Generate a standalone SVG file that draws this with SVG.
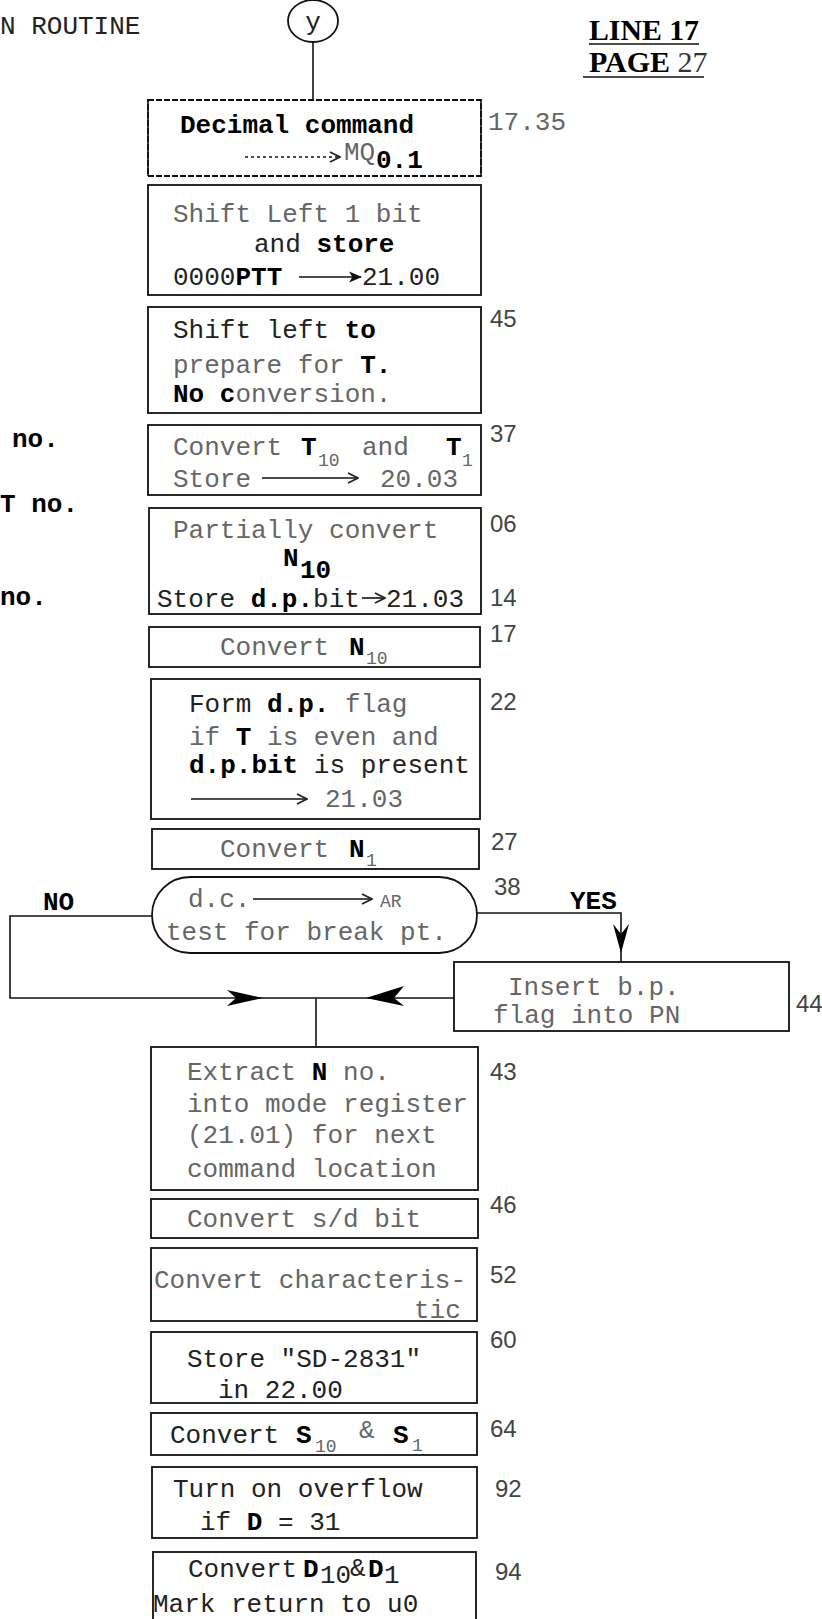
<svg xmlns="http://www.w3.org/2000/svg" width="822" height="1619" viewBox="0 0 822 1619">
<style>
.bx{fill:none;stroke:#111;stroke-width:1.8}
.ln{fill:none;stroke:#111;stroke-width:1.6}
.t{font-family:"Liberation Mono","Courier New",monospace;font-size:26px;fill:#222}
.b{font-weight:bold;fill:#000}
.g{fill:#666}
.s{font-size:18px}
.lb{font-family:"Liberation Sans",Arial,sans-serif;font-size:24px;fill:#444}
.hd{font-family:"Liberation Serif","Times New Roman",serif;font-size:30px;font-weight:bold;fill:#000}
</style>
<defs>
<marker id="chev" viewBox="0 0 12 12" refX="11" refY="6" markerWidth="12" markerHeight="12" markerUnits="userSpaceOnUse" orient="auto"><path d="M1,1 L11,6 L1,11" fill="none" stroke="#222" stroke-width="1.8"/></marker>
<marker id="tri" viewBox="0 0 12 12" refX="11" refY="6" markerWidth="13" markerHeight="13" markerUnits="userSpaceOnUse" orient="auto"><path d="M0,1 L12,6 L0,11 L3,6 Z" fill="#111"/></marker>
</defs>

<g id="header">
<text class="t" x="0" y="34">N ROUTINE</text>
<text class="hd" x="589" y="40" textLength="110" lengthAdjust="spacingAndGlyphs">LINE 17</text>
<line class="ln" x1="589" y1="44" x2="699" y2="44" stroke-width="2.5"/>
<text class="hd" x="589" y="72">PAGE <tspan font-weight="normal" fill="#333">27</tspan></text>
<line class="ln" x1="583" y1="77" x2="704" y2="77" stroke-width="2.5"/>
</g>

<g id="start">
<ellipse class="bx" cx="313" cy="21" rx="25" ry="21"/>
<text class="t" x="313" y="30" text-anchor="middle">y</text>
</g>

<g id="connectors">
<line class="ln" x1="313" y1="42" x2="313" y2="100"/>
<polyline class="ln" points="152,916 10,916 10,998 454,998"/>
<polyline class="ln" points="477,913 621,913 621,962"/>
<line class="ln" x1="316" y1="998" x2="316" y2="1047"/>
<path d="M227,990 L263,998 L227,1006 L236,998 Z" fill="#000"/>
<path d="M366,998 L404,986 L394,998 L404,1006 Z" fill="#000"/>
<path d="M613,924 L621,953 L629,924 L621,934 Z" fill="#000"/>
<text class="t b" x="43" y="910">NO</text>
<text class="t b" x="570" y="909">YES</text>
</g>

<g id="n1735">
<rect class="bx" x="148" y="100" width="333" height="76" stroke-dasharray="6,2"/>
<line class="ln" x1="148" y1="100" x2="148" y2="176"/>
<line class="ln" x1="481" y1="100" x2="481" y2="176"/>
<text class="t b" x="180" y="133">Decimal command</text>
<line class="ln" x1="245" y1="157" x2="340" y2="157" stroke-dasharray="3,3" marker-end="url(#chev)"/>
<text class="t g" x="344" y="160" font-size="20">MQ</text>
<text class="t b" x="376" y="168">0.1</text>
<text class="t g" x="488" y="130" font-size="22">17.35</text>
</g>

<g id="n_shift1">
<rect class="bx" x="148" y="185" width="333" height="110"/>
<text class="t g" x="173" y="222">Shift Left 1 bit</text>
<text class="t" x="254" y="252">and <tspan class="b">store</tspan></text>
<text class="t" x="173" y="285">0000<tspan class="b">PTT</tspan></text>
<line class="ln" x1="299" y1="277" x2="361" y2="277" marker-end="url(#tri)"/>
<text class="t" x="362" y="285">21.00</text>
</g>

<g id="n45">
<rect class="bx" x="148" y="307" width="333" height="106"/>
<text class="t" x="173" y="338">Shift left <tspan class="b">to</tspan></text>
<text class="t" x="173" y="373"><tspan class="g">prepare for</tspan> <tspan class="b">T.</tspan></text>
<text class="t" x="173" y="402"><tspan class="b">No c</tspan><tspan class="g">onversion.</tspan></text>
<text class="lb" x="490" y="327">45</text>
</g>

<g id="n37">
<rect class="bx" x="148" y="425" width="333" height="70"/>
<text class="t g" x="173" y="455">Convert</text>
<text class="t b" x="301" y="455">T</text>
<text class="t g s" x="318" y="466">10</text>
<text class="t g" x="362" y="455">and</text>
<text class="t b" x="446" y="455">T</text>
<text class="t g s" x="462" y="466">1</text>
<text class="t g" x="173" y="487">Store</text>
<line class="ln" x1="262" y1="478" x2="358" y2="478" marker-end="url(#chev)"/>
<text class="t g" x="380" y="487">20.03</text>
<text class="lb" x="490" y="442">37</text>
</g>

<g id="leftnotes">
<text class="t b" x="12" y="447">no.</text>
<text class="t b" x="0" y="512">T no.</text>
<text class="t b" x="0" y="605">no.</text>
</g>

<g id="n06">
<rect class="bx" x="149" y="508" width="332" height="106"/>
<text class="t g" x="173" y="538">Partially convert</text>
<text class="t b" x="283" y="566" font-size="24">N</text>
<text class="t b" x="300" y="578" font-size="22">10</text>
<text class="t" x="157" y="607">Store <tspan class="b">d.p.</tspan>bit</text>
<line class="ln" x1="362" y1="598" x2="385" y2="598" marker-end="url(#chev)"/>
<text class="t" x="386" y="607">21.03</text>
<text class="lb" x="490" y="532">06</text>
<text class="lb" x="490" y="606">14</text>
</g>

<g id="n17">
<rect class="bx" x="149" y="627" width="331" height="40"/>
<text class="t g" x="220" y="655">Convert</text>
<text class="t b" x="349" y="655">N</text>
<text class="t g s" x="366" y="664">10</text>
<text class="lb" x="490" y="642">17</text>
</g>

<g id="n22">
<rect class="bx" x="151" y="679" width="329" height="140"/>
<text class="t" x="189" y="712">Form <tspan class="b">d.p.</tspan> <tspan class="g">flag</tspan></text>
<text class="t g" x="189" y="745">if <tspan class="b">T</tspan> is even and</text>
<text class="t" x="189" y="773"><tspan class="b">d.p.bit</tspan> is present</text>
<line class="ln" x1="191" y1="799" x2="307" y2="799" marker-end="url(#chev)"/>
<text class="t g" x="325" y="807">21.03</text>
<text class="lb" x="490" y="710">22</text>
</g>

<g id="n27">
<rect class="bx" x="152" y="829" width="327" height="40"/>
<text class="t g" x="220" y="857">Convert</text>
<text class="t b" x="349" y="857">N</text>
<text class="t g s" x="366" y="866">1</text>
<text class="lb" x="491" y="850">27</text>
</g>

<g id="n38">
<rect class="bx" x="152" y="877" width="325" height="76" rx="38" ry="38"/>
<text class="t g" x="188" y="907">d.c.</text>
<line class="ln" x1="253" y1="899" x2="372" y2="899" marker-end="url(#chev)"/>
<text class="t g s" x="380" y="907">AR</text>
<text class="t g" x="166" y="940">test for break pt.</text>
<text class="lb" x="494" y="895" fill="#111">38</text>
</g>

<g id="n44">
<rect class="bx" x="454" y="962" width="335" height="69"/>
<text class="t g" x="508" y="995">Insert b.p.</text>
<text class="t g" x="493" y="1023">flag into PN</text>
<text class="lb" x="796" y="1012">44</text>
</g>

<g id="n43">
<rect class="bx" x="151" y="1047" width="327" height="143"/>
<text class="t g" x="187" y="1080">Extract <tspan class="b">N</tspan> no.</text>
<text class="t g" x="187" y="1112">into mode register</text>
<text class="t g" x="187" y="1143">(21.01) for next</text>
<text class="t g" x="187" y="1177">command location</text>
<text class="lb" x="490" y="1080">43</text>
</g>

<g id="n46">
<rect class="bx" x="151" y="1199" width="327" height="39"/>
<text class="t g" x="187" y="1227">Convert s/d bit</text>
<text class="lb" x="490" y="1213">46</text>
</g>

<g id="n52">
<rect class="bx" x="151" y="1248" width="326" height="73"/>
<text class="t g" x="154" y="1288">Convert characteris-</text>
<text class="t g" x="414" y="1318" font-size="24">tic</text>
<text class="lb" x="490" y="1283">52</text>
</g>

<g id="n60">
<rect class="bx" x="151" y="1332" width="326" height="71"/>
<text class="t" x="187" y="1367">Store "SD-2831"</text>
<text class="t" x="218" y="1398">in 22.00</text>
<text class="lb" x="490" y="1348">60</text>
</g>

<g id="n64">
<rect class="bx" x="151" y="1413" width="326" height="42"/>
<text class="t" x="170" y="1443" fill="#000">Convert</text>
<text class="t b" x="296" y="1443">S</text>
<text class="t g s" x="315" y="1452">10</text>
<text class="t g" x="359" y="1438" font-size="15">&amp;</text>
<text class="t b" x="393" y="1443">S</text>
<text class="t g s" x="412" y="1451">1</text>
<text class="lb" x="490" y="1437">64</text>
</g>

<g id="n92">
<rect class="bx" x="152" y="1467" width="325" height="71"/>
<text class="t" x="173" y="1497">Turn on overflow</text>
<text class="t" x="200" y="1530">if <tspan class="b">D</tspan> = 31</text>
<text class="lb" x="495" y="1497">92</text>
</g>

<g id="n94">
<rect class="bx" x="153" y="1552" width="323" height="80"/>
<text class="t" x="188" y="1577" font-size="24">Convert</text>
<text class="t b" x="303" y="1577" font-size="24">D</text>
<text class="t" x="320" y="1583" font-size="15">10</text>
<text class="t" x="350" y="1576" font-size="16">&amp;</text>
<text class="t b" x="368" y="1577" font-size="24">D</text>
<text class="t" x="384" y="1583" font-size="15">1</text>
<text class="t" x="153" y="1612" font-size="24">Mark return to u0</text>
<text class="lb" x="495" y="1580">94</text>
</g>
</svg>
